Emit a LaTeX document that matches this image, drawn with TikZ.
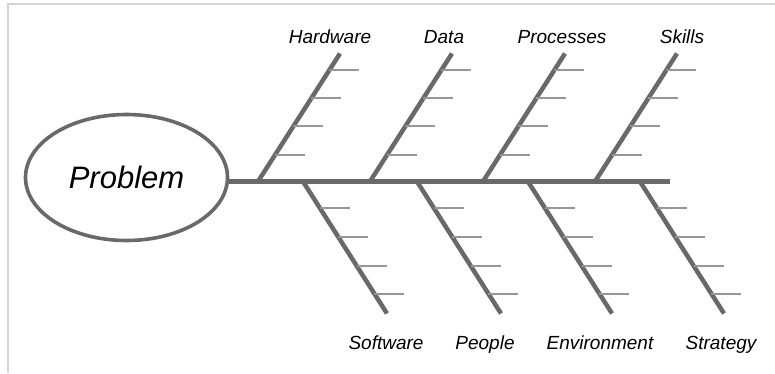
\documentclass[tikz,border=0pt]{standalone}
\usepackage{fontspec}
\setmainfont{Liberation Sans}
\usetikzlibrary{calc, shapes.geometric}

\definecolor{boneGray}{RGB}{105,105,105}
\definecolor{ribGray}{RGB}{150,150,150}
\definecolor{frameGray}{RGB}{212,212,212}

\begin{document}
\begin{tikzpicture}[x=1pt, y=-1pt]
	\tikzstyle{bone}=[
		draw=boneGray,
		line width=4.5pt
	]
	\tikzstyle{rib}=[
		draw=ribGray,
		line width=2pt
	]
	\tikzstyle{cause}=[
		font=\fontsize{19}{22}\selectfont\itshape,
		anchor=base,
		inner sep=0pt
	]
	
	\useasboundingbox (0,0) rectangle (775,373);
	\draw [frameGray, line width=2pt] (8,373) -- (8,4) -- (775,4);
	
	\node (problem) at (126.5,177.5) [ellipse, draw=boneGray, line width=3.6pt, minimum width=202pt, minimum height=126pt, inner sep=0pt, font=\fontsize{31}{36}\selectfont\itshape] {Problem};
	
	\coordinate (head) at (670,181.5);
	\draw [bone] (problem.east |- head) -- (head);
	
	% upper bones
	\foreach \x/\lx/\name [count=\i] in {258/330/Hardware, 370/444/Data, 483/562/Processes, 595/682/Skills}{
		\coordinate (u\i) at (\x,181.5);
		\coordinate (ut\i) at ($(u\i)+(82,-128)$);
		\draw [bone] (u\i) -- (ut\i);
		\foreach \t in {0.21,0.43,0.65,0.87}
			\draw [rib] ($(u\i)!\t!(ut\i)$) -- +(30,0);
		\node (uc\i) at (\lx,43) [cause] {\name};
	}
	
	% lower bones
	\foreach \x/\lx/\name [count=\i] in {303/386/Software, 417/485/People, 528/600/Environment, 640/721/Strategy}{
		\coordinate (l\i) at (\x,181.5);
		\coordinate (lt\i) at ($(l\i)+(84,132)$);
		\draw [bone] (l\i) -- (lt\i);
		\foreach \t in {0.2,0.42,0.64,0.85}
			\draw [rib] ($(l\i)!\t!(lt\i)$) -- +(30,0);
		\node (lc\i) at (\lx,349) [cause] {\name};
	}
\end{tikzpicture}
\end{document}
